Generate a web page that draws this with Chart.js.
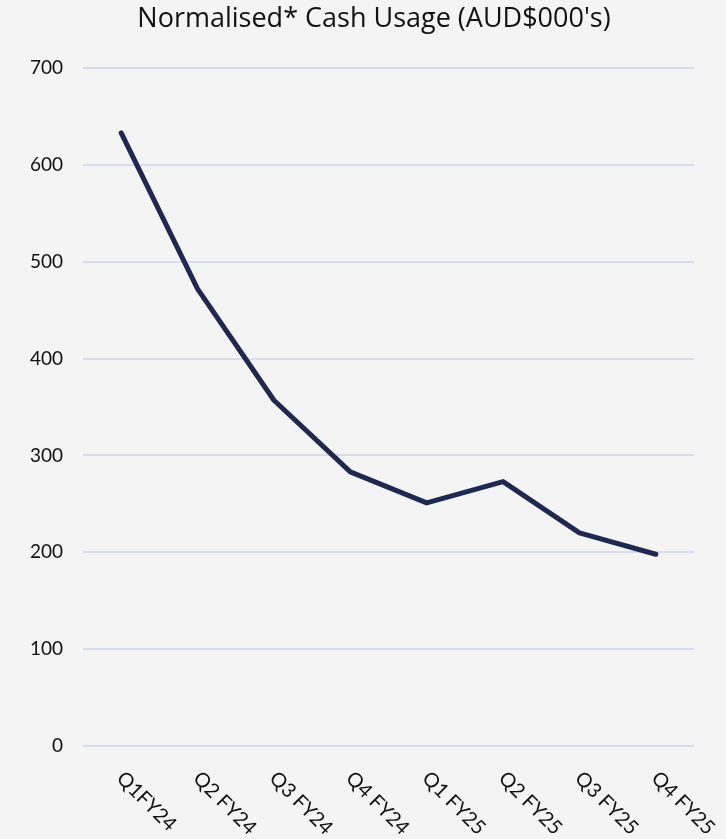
<!DOCTYPE html>
<html>
<head>
<meta charset="utf-8">
<script src="https://cdn.jsdelivr.net/npm/chart.js@4"></script>
<style>
  html, body { margin: 0; padding: 0; background: #f4f4f4; }
  #wrap { width: 726px; height: 839px; }
</style>
</head>
<body>
<div id="wrap"><canvas id="cash"></canvas></div>
<script>
const quarters = ['Q1FY24', 'Q2 FY24', 'Q3 FY24', 'Q4 FY24', 'Q1 FY25', 'Q2 FY25', 'Q3 FY25', 'Q4 FY25'];
const cashUsage = [633, 472, 357, 283, 251, 273, 220, 198];
const yTicks = [0, 100, 200, 300, 400, 500, 600, 700];
const chartTitle = "Normalised* Cash Usage (AUD$000's)";

const FONT = 'Lato, "Open Sans", sans-serif';

// title sits a bit right of canvas centre, x labels slant clockwise from the tick
const extraText = {
    id: 'extraText',
    afterDraw(chart) {
        const ctx = chart.ctx;
        const xs = chart.scales.x;
        ctx.save();
        ctx.fillStyle = '#111';
        ctx.font = '27px "Open Sans", sans-serif';
        ctx.textAlign = 'center';
        ctx.textBaseline = 'middle';
        ctx.fillText(chartTitle, 374, 19);

        ctx.font = '20px ' + FONT;
        ctx.textAlign = 'left';
        quarters.forEach((q, i) => {
            const x = xs.getPixelForTick(i);
            ctx.save();
            ctx.translate(x - 1, chart.chartArea.bottom + 29);
            ctx.rotate(Math.PI / 4);
            ctx.fillText(q, 0, 0);
            ctx.restore();
        });
        ctx.restore();
    }
};

new Chart(document.getElementById('cash'), {
    type: 'line',
    data: {
        labels: quarters,
        datasets: [{
            data: cashUsage,
            borderColor: '#1f2850',
            borderWidth: 5,
            borderCapStyle: 'round',
            borderJoinStyle: 'round',
            pointRadius: 0,
            tension: 0,
            fill: false
        }]
    },
    options: {
        responsive: true,
        maintainAspectRatio: false,
        animation: false,
        layout: { padding: { top: 68, right: 32, bottom: 0, left: 0 } },
        plugins: {
            legend: { display: false },
            tooltip: { enabled: false },
            title: { display: false }
        },
        scales: {
            x: {
                offset: true,
                grid: { display: false, drawTicks: false },
                border: { display: false },
                ticks: { display: false },
                afterFit(s) { s.height = 93; }
            },
            y: {
                min: 0,
                max: 700,
                afterBuildTicks(s) { s.ticks = yTicks.map(v => ({ value: v })); },
                grid: { color: '#d9dcee', lineWidth: 2, drawTicks: false },
                border: { display: false },
                ticks: {
                    color: '#111',
                    padding: 20,
                    font: { family: FONT, size: 19 }
                },
                afterFit(s) { s.width = 83; }
            }
        }
    },
    plugins: [extraText]
});
</script>
</body>
</html>
